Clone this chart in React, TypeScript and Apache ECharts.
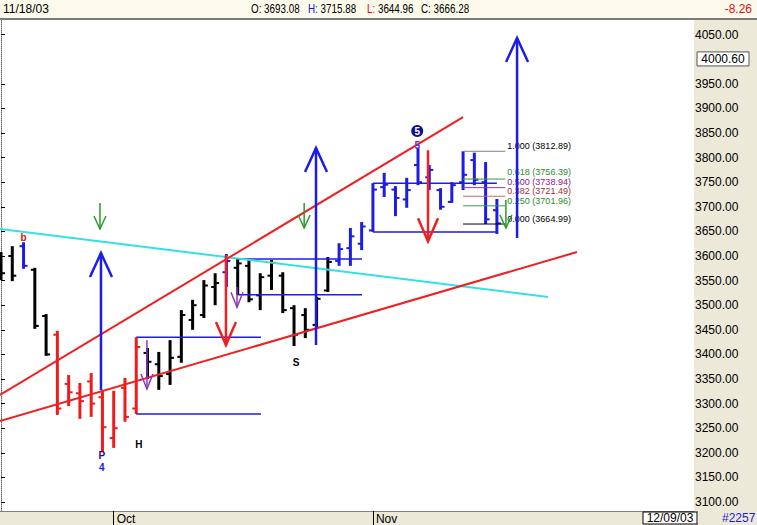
import React, { useEffect, useRef } from "react";
import * as echarts from "echarts";

// ---------- data ----------
const dates = [
  "09/17/03", "09/18/03", "09/19/03", "09/22/03", "09/23/03", "09/24/03", "09/25/03", "09/26/03", "09/29/03", "09/30/03",
  "10/01/03", "10/02/03", "10/03/03", "10/06/03", "10/07/03", "10/08/03", "10/09/03", "10/10/03", "10/13/03", "10/14/03",
  "10/15/03", "10/16/03", "10/17/03", "10/20/03", "10/21/03", "10/22/03", "10/23/03", "10/24/03", "10/27/03", "10/28/03",
  "10/29/03", "10/30/03", "10/31/03",
  "11/03/03", "11/04/03", "11/05/03", "11/06/03", "11/07/03", "11/10/03", "11/11/03", "11/12/03", "11/13/03", "11/14/03",
  "11/17/03", "11/18/03",
];
const opens = [
  3590, 3600, 3620, 3572, 3478, 3440, 3340, 3321, 3345, 3313,
  3230, 3332, 3290, 3403, 3380, 3360, 3395, 3470, 3480, 3537,
  3567, 3576, 3580, 3520, 3560, 3560, 3494, 3480, 3460, 3530,
  3590, 3616, 3625,
  3652, 3740, 3735, 3715, 3785, 3760, 3734, 3710, 3750, 3795, 3750, 3693.08,
];
const highs = [
  3608, 3620, 3628, 3576, 3482, 3448, 3358, 3342, 3362, 3328,
  3326, 3352, 3435, 3413, 3405, 3429, 3490, 3511, 3551, 3565,
  3604, 3594, 3592, 3565, 3592, 3567, 3500, 3494, 3517, 3598,
  3626, 3657, 3669,
  3748, 3769, 3742, 3759, 3820, 3785, 3738, 3750, 3812.89, 3810, 3791, 3715.88,
];
const lows = [
  3551, 3549, 3574, 3452, 3397, 3277, 3295, 3269, 3273, 3202,
  3210, 3263, 3279, 3350, 3328, 3338, 3383, 3450, 3474, 3500,
  3537, 3521, 3506, 3490, 3531, 3484, 3417, 3433, 3454, 3527,
  3580, 3580, 3612,
  3649, 3720, 3681, 3698, 3744, 3734, 3694, 3708, 3734, 3744, 3664.99, 3644.96,
];
const closes = [
  3565, 3560, 3580, 3458, 3400, 3290, 3323, 3305, 3300, 3252,
  3250, 3273, 3415, 3385, 3356, 3393, 3480, 3500, 3540, 3545,
  3590, 3585, 3512, 3557, 3586, 3490, 3440, 3450, 3513, 3588,
  3614, 3640, 3660,
  3735, 3745, 3718, 3734, 3750, 3775, 3700, 3744, 3765, 3755, 3674.54, 3666.28,
];
// bar marking group: k = plain, r = corrective (red), b = impulse (blue)
const barGroup = [
  "k", "k", "b", "k", "k", "r", "r", "r", "r", "r",
  "r", "r", "r", "k", "k", "k", "k", "k", "k", "k",
  "b", "k", "k", "k", "k", "k", "k", "k", "k", "k",
  "b", "b", "b",
  "b", "b", "b", "b", "b", "b", "b", "b", "b", "b", "b", "b",
];

// trend lines: [barIndex, value] end points
const cyanLine = [[-0.09, 3654.9], [48.54, 3516.7]];
const redUpperLine = [[-0.09, 3317.5], [41.0, 3882.5]];
const redLowerLine = [[-0.09, 3264.6], [51.11, 3608.1]];

// range projections: [source bar, end index] drawn at that bar's high & low
const rangeBoxes = [[12, 23.07], [21, 32.03], [33, 44.0]];

// Fibonacci retracement
const fibHigh = 3812.89;
const fibLow = 3664.99;
const fibRatios = [1, 0.618, 0.5, 0.382, 0.25, 0];
const fibSpan = [41, 44.75];

// arrows: [barIndex, fromValue, toValue]
const blueUpArrows = [[8.87, 3327.6, 3606], [27.95, 3419, 3819.5], [45.79, 3636.6, 4043]];
const redDownArrows = [[19.96, 3602, 3419], [37.89, 3815, 3630]];
const greenDownArrows = [[8.78, 3707.7, 3654.9], [26.9, 3707.7, 3657], [44.8, 3713.8, 3657]];
const purpleDownArrows = [[12.95, 3429, 3329.7], [20.94, 3537, 3496]];

// wave labels: [barIndex, value, text, kind]
const waveLabels = [
  [2, 3638.6, "b", "red"],
  [8.95, 3193.5, "P", "navy"],
  [8.95, 3171, "4", "blue"],
  [12.24, 3215.9, "H", "black"],
  [26.18, 3384.5, "S", "black"],
  [36.93, 3825.6, "5", "violet"],
];
const circledLabels = [[36.93, 3854, "5"]];

const yTicks = [3100, 3150, 3200, 3250, 3300, 3350, 3400, 3450, 3500, 3550, 3600, 3650, 3700, 3750, 3800, 3850, 3900, 3950, 4050];
const priceMarker = 4000.6;
const cursorDate = "12/09/03";
const chartId = "#2257";
const monthNames = ["Jan", "Feb", "Mar", "Apr", "May", "Jun", "Jul", "Aug", "Sep", "Oct", "Nov", "Dec"];

// ---------- styles ----------
const FONT = "'Liberation Sans Narrow', 'Arial Narrow', 'Liberation Sans', Arial, sans-serif";
const X_MIN = -0.09;
const X_MAX = 61.49;
const Y_MIN = 3081.7;
const Y_MAX = 4079.7;
const FIB_LABEL_GAP = 9.6;
const groupColors: Record<string, string> = { k: "#000000", r: "#ee1c1c", b: "#1c1ce6" };
const labelColors: Record<string, string> = { red: "#e01010", navy: "#2a1070", blue: "#1c1ce6", black: "#000000", violet: "#5a2fd0" };
const fibLineColors = ["#808080", "#3c9a3c", "#9933aa", "#c06a6a", "#3c9a3c", "#000000"];
const fibTextColors = ["#000000", "#2e8b2e", "#882288", "#a03030", "#2e8b2e", "#000000"];

const monthStarts: number[] = [];
for (let i = 1; i < dates.length; i++) {
  if (dates[i].slice(0, 2) !== dates[i - 1].slice(0, 2)) monthStarts.push(i);
}

function arrowSeries(data: number[][], color: string, halfW: number, headLen: number, lw: number) {
  return {
    type: "custom",
    z: 6,
    silent: true,
    data,
    renderItem: (params: any, api: any) => {
      const x = api.value(0);
      const a = api.coord([x, api.value(1)]);
      const b = api.coord([x, api.value(2)]);
      const dir = b[1] < a[1] ? 1 : -1;
      const ay = b[1] + dir * headLen;
      return {
        type: "group",
        children: [
          { type: "line", shape: { x1: a[0], y1: a[1], x2: b[0], y2: b[1] }, style: { stroke: color, lineWidth: lw } },
          {
            type: "polyline",
            shape: { points: [[b[0] - halfW, ay], [b[0], b[1]], [b[0] + halfW, ay]] },
            style: { stroke: color, lineWidth: lw, fill: "none" },
          },
        ],
      };
    },
  };
}

function trendSeries(data: number[][], color: string) {
  return {
    type: "line",
    z: 4,
    silent: true,
    data,
    showSymbol: false,
    symbol: "none",
    lineStyle: { color, width: 2 },
  };
}

export default function App() {
  const ref = useRef<HTMLDivElement>(null);
  useEffect(() => {
    const chart = echarts.init(ref.current!, null, { renderer: "svg" });
    const ohlc = dates.map((d, i) => [i, opens[i], highs[i], lows[i], closes[i]]);
    const boxData: number[][] = [];
    rangeBoxes.forEach(([src, end]) => {
      boxData.push([src, end, highs[src]]);
      boxData.push([src, end, lows[src]]);
    });
    const fibValues = fibRatios.map((r) => fibLow + r * (fibHigh - fibLow));
    const fibData = fibRatios.map((r, k) => [fibSpan[0], fibSpan[1], fibValues[k], r, k]);

    chart.setOption({
      animation: false,
      backgroundColor: "#ECE9D8",
      grid: { left: 0, right: 63, top: 20, bottom: 14, show: true, backgroundColor: "#ffffff", borderWidth: 0 },
      xAxis: {
        type: "value",
        min: X_MIN,
        max: X_MAX,
        splitLine: { show: false },
        axisLine: { show: true, lineStyle: { color: "#808080", width: 1 } },
        axisTick: { show: true, customValues: monthStarts, length: 14, lineStyle: { color: "#000" } },
        axisLabel: {
          customValues: monthStarts,
          formatter: (v: number) => monthNames[parseInt(dates[Math.round(v)].slice(0, 2), 10) - 1],
          align: "left",
          margin: 2,
          padding: [0, 0, 0, 3],
          fontSize: 12,
          fontFamily: FONT,
          color: "#000",
        },
      },
      yAxis: {
        type: "value",
        position: "right",
        min: Y_MIN,
        max: Y_MAX,
        splitLine: { show: false },
        axisLine: { show: true, lineStyle: { color: "#666", type: "dotted" } },
        axisTick: { show: true, customValues: yTicks, length: 4, lineStyle: { color: "#000" } },
        axisLabel: {
          customValues: yTicks,
          formatter: (v: number) => v.toFixed(2),
          margin: 1,
          fontSize: 12,
          fontFamily: FONT,
          color: "#000",
        },
      },
      series: [
        {
          type: "custom",
          z: 3,
          silent: true,
          data: ohlc,
          renderItem: (params: any, api: any) => {
            const i = api.value(0);
            const pO = api.coord([i, api.value(1)]);
            const pH = api.coord([i, api.value(2)]);
            const pL = api.coord([i, api.value(3)]);
            const pC = api.coord([i, api.value(4)]);
            const color = groupColors[barGroup[params.dataIndex]];
            return {
              type: "group",
              children: [
                { type: "line", shape: { x1: pH[0], y1: pH[1], x2: pL[0], y2: pL[1] }, style: { stroke: color, lineWidth: 3 } },
                { type: "line", shape: { x1: pO[0] - 4, y1: pO[1], x2: pO[0], y2: pO[1] }, style: { stroke: color, lineWidth: 2 } },
                { type: "line", shape: { x1: pC[0], y1: pC[1], x2: pC[0] + 4, y2: pC[1] }, style: { stroke: color, lineWidth: 2 } },
              ],
            };
          },
        },
        trendSeries(cyanLine, "#33e0e8"),
        trendSeries(redUpperLine, "#ee2020"),
        trendSeries(redLowerLine, "#ee2020"),
        {
          type: "custom",
          z: 4,
          silent: true,
          data: boxData,
          renderItem: (params: any, api: any) => {
            const a = api.coord([api.value(0), api.value(2)]);
            const b = api.coord([api.value(1), api.value(2)]);
            return { type: "line", shape: { x1: a[0], y1: a[1], x2: b[0], y2: b[1] }, style: { stroke: "#1c1ce6", lineWidth: 1.5 } };
          },
        },
        {
          type: "custom",
          z: 4,
          silent: true,
          data: fibData,
          renderItem: (params: any, api: any) => {
            const v = api.value(2);
            const r = api.value(3);
            const k = api.value(4);
            const a = api.coord([api.value(0), v]);
            const b = api.coord([api.value(1), v]);
            // label layout: each label sits 5px above its line, pushed up to keep a minimum gap
            const ys = fibValues.map((fv) => api.coord([api.value(1), fv])[1] - 5);
            for (let j = ys.length - 2; j >= 0; j--) {
              ys[j] = Math.min(ys[j], ys[j + 1] - FIB_LABEL_GAP);
            }
            return {
              type: "group",
              children: [
                { type: "line", shape: { x1: a[0], y1: a[1], x2: b[0], y2: b[1] }, style: { stroke: fibLineColors[k], lineWidth: 1 } },
                {
                  type: "text",
                  x: b[0] + 2,
                  y: ys[k],
                  style: {
                    text: r.toFixed(3) + " (" + v.toFixed(2) + ")",
                    fill: fibTextColors[k],
                    fontSize: 9,
                    fontFamily: FONT,
                    align: "left",
                    verticalAlign: "middle",
                  },
                },
              ],
            };
          },
        },
        arrowSeries(blueUpArrows, "#1c1ce6", 11, 24, 2.5),
        arrowSeries(redDownArrows, "#ee2020", 10, 23, 2.5),
        arrowSeries(greenDownArrows, "#2a9a2a", 6, 13, 1.5),
        arrowSeries(purpleDownArrows, "#8a3ab9", 6, 15, 1.5),
        {
          type: "custom",
          z: 7,
          silent: true,
          data: waveLabels,
          renderItem: (params: any, api: any) => {
            const item = waveLabels[params.dataIndex];
            const p = api.coord([item[0], item[1]]);
            return {
              type: "text",
              x: p[0],
              y: p[1],
              style: {
                text: String(item[2]),
                fill: labelColors[String(item[3])],
                fontSize: 10,
                fontWeight: "bold",
                fontFamily: "'Liberation Sans', Arial, sans-serif",
                align: "center",
                verticalAlign: "middle",
              },
            };
          },
        },
        {
          type: "custom",
          z: 7,
          silent: true,
          data: circledLabels,
          renderItem: (params: any, api: any) => {
            const item = circledLabels[params.dataIndex];
            const p = api.coord([item[0], item[1]]);
            return {
              type: "group",
              children: [
                { type: "circle", shape: { cx: p[0], cy: p[1], r: 6 }, style: { fill: "#10108a" } },
                {
                  type: "text",
                  x: p[0],
                  y: p[1] + 0.5,
                  style: {
                    text: String(item[2]),
                    fill: "#ffffff",
                    fontSize: 10,
                    fontWeight: "bold",
                    fontFamily: "'Liberation Sans', Arial, sans-serif",
                    align: "center",
                    verticalAlign: "middle",
                  },
                },
              ],
            };
          },
        },
      ],
    });

    const last = dates.length - 1;
    const change = closes[last] - closes[last - 1];
    const markerY = chart.convertToPixel({ yAxisIndex: 0 }, priceMarker) as number;
    const txt = (text: string, x: number, y: number, fill: string, align = "left", scaleX = 1, rich?: any) => ({
      type: "text",
      x,
      y,
      z: 20,
      scaleX,
      style: { text, fill, fontSize: 12, fontFamily: FONT, align, verticalAlign: "middle", rich },
    });
    const hdrRich = {
      hb: { fill: "#1010e0", fontSize: 12, fontFamily: FONT },
      lr: { fill: "#e01010", fontSize: 12, fontFamily: FONT },
    };

    chart.setOption({
      graphic: [
        { type: "rect", z: 15, shape: { x: 0, y: 0, width: 757, height: 18 }, style: { fill: "#FCFAEA" } },
        { type: "rect", z: 15, shape: { x: 0, y: 18, width: 757, height: 2 }, style: { fill: "#7c7c7c" } },
        txt(dates[last], 3, 9, "#000"),
        txt("O: " + opens[last].toFixed(2), 251, 9, "#000", "left", 0.82),
        txt("{hb|H:} " + highs[last].toFixed(2), 308, 9, "#000", "left", 0.82, hdrRich),
        txt("{lr|L:} " + lows[last].toFixed(2), 367, 9, "#000", "left", 0.82, hdrRich),
        txt("C: " + closes[last].toFixed(2), 421, 9, "#000", "left", 0.82),
        txt(change.toFixed(2), 752, 9, "#e01010", "right"),
        {
          type: "rect",
          z: 15,
          shape: { x: 697, y: markerY - 7, width: 52, height: 14 },
          style: { fill: "#ffffff", stroke: "#555", lineWidth: 1 },
        },
        txt(priceMarker.toFixed(2), 723, markerY, "#000", "center"),
        { type: "rect", z: 15, shape: { x: 643, y: 512, width: 54, height: 12 }, style: { fill: "#ffffff", stroke: "#000", lineWidth: 1 } },
        txt(cursorDate, 670, 518, "#000", "center"),
        { type: "rect", z: 15, shape: { x: 697, y: 511, width: 1, height: 14 }, style: { fill: "#808080" } },
        txt(chartId, 722, 518, "#1c1cc8", "left"),
      ],
    });
    return () => chart.dispose();
  }, []);
  return <div ref={ref} style={{ position: "absolute", left: 0, top: 0, width: 757, height: 525 }} />;
}
